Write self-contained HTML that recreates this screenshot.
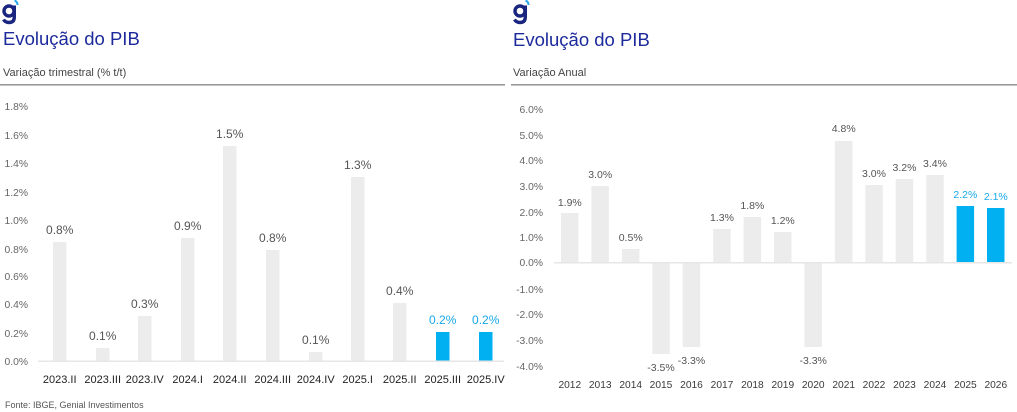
<!DOCTYPE html>
<html><head><meta charset="utf-8"><style>
html,body{margin:0;padding:0;background:#fff;}
svg{display:block;}
text{font-family:"Liberation Sans",sans-serif;}
</style></head><body>
<svg width="1017" height="412" viewBox="0 0 1017 412" xmlns="http://www.w3.org/2000/svg">
<rect width="1017" height="412" fill="#fff"/>

<!-- LEFT HEADER -->
<g transform="translate(0,0)">
  <circle cx="9" cy="11" r="5" fill="none" stroke="#1a2580" stroke-width="3.4"/>
  <path d="M14.3 5.5 V17 Q14.3 22.5 9 22.5 Q5.3 22.5 3.5 19.5" fill="none" stroke="#1a2580" stroke-width="3.4"/>
  <path d="M14.5 0.5 Q17.5 1.5 17.5 5" fill="none" stroke="#2aa8e8" stroke-width="2"/>
</g>
<text x="3" y="45" font-size="18.5" fill="#1c2a9c">Evolução do PIB</text>
<text x="3" y="76" font-size="11" fill="#444">Variação trimestral (% t/t)</text>
<rect x="0" y="84" width="505" height="1.6" fill="#9a9a9a"/>

<!-- LEFT Y AXIS -->
<g font-size="10.3" fill="#666" text-anchor="end">
  <text x="28" y="110">1.8%</text>
  <text x="28" y="139">1.6%</text>
  <text x="28" y="167">1.4%</text>
  <text x="28" y="196">1.2%</text>
  <text x="28" y="224">1.0%</text>
  <text x="28" y="253">0.8%</text>
  <text x="28" y="280">0.6%</text>
  <text x="28" y="308">0.4%</text>
  <text x="28" y="337">0.2%</text>
  <text x="28" y="365">0.0%</text>
</g>

<!-- LEFT BARS -->
<g fill="#ececec">
  <rect x="53" y="242" width="13.5" height="119"/>
  <rect x="96" y="348" width="13.5" height="13"/>
  <rect x="138" y="316" width="13.5" height="45"/>
  <rect x="181" y="238" width="13.5" height="123"/>
  <rect x="223" y="146" width="13.5" height="215"/>
  <rect x="266" y="250" width="13.5" height="111"/>
  <rect x="309" y="352" width="13.5" height="9"/>
  <rect x="351" y="177" width="13.5" height="184"/>
  <rect x="393" y="303" width="13.5" height="58"/>
</g>
<g fill="#00b0f0">
  <rect x="436" y="332" width="13.5" height="29"/>
  <rect x="479" y="332" width="13.5" height="29"/>
</g>
<rect x="38" y="360.5" width="466" height="1.5" fill="#e6e6e6"/>

<g font-size="12" fill="#555" text-anchor="middle">
  <text x="59.7" y="234">0.8%</text>
  <text x="102.7" y="340">0.1%</text>
  <text x="144.7" y="308">0.3%</text>
  <text x="187.7" y="230">0.9%</text>
  <text x="229.7" y="138">1.5%</text>
  <text x="272.7" y="242">0.8%</text>
  <text x="315.7" y="344">0.1%</text>
  <text x="357.7" y="169">1.3%</text>
  <text x="399.7" y="295">0.4%</text>
</g>
<g font-size="12" fill="#1aa8ea" text-anchor="middle">
  <text x="442.7" y="324">0.2%</text>
  <text x="485.7" y="324">0.2%</text>
</g>

<g font-size="11" fill="#222" text-anchor="middle">
  <text x="59.7" y="383">2023.II</text>
  <text x="102.7" y="383">2023.III</text>
  <text x="144.7" y="383">2023.IV</text>
  <text x="187.7" y="383">2024.I</text>
  <text x="229.7" y="383">2024.II</text>
  <text x="272.7" y="383">2024.III</text>
  <text x="315.7" y="383">2024.IV</text>
  <text x="357.7" y="383">2025.I</text>
  <text x="399.7" y="383">2025.II</text>
  <text x="442.7" y="383">2025.III</text>
  <text x="485.7" y="383">2025.IV</text>
</g>

<text x="5" y="408" font-size="9" fill="#555">Fonte: IBGE, Genial Investimentos</text>

<!-- RIGHT HEADER -->
<g transform="translate(511,0)">
  <circle cx="9" cy="11" r="5" fill="none" stroke="#1a2580" stroke-width="3.4"/>
  <path d="M14.3 5.5 V17 Q14.3 22.5 9 22.5 Q5.3 22.5 3.5 19.5" fill="none" stroke="#1a2580" stroke-width="3.4"/>
  <path d="M14.5 0.5 Q17.5 1.5 17.5 5" fill="none" stroke="#2aa8e8" stroke-width="2"/>
</g>
<text x="513" y="46" font-size="18.5" fill="#1c2a9c">Evolução do PIB</text>
<text x="513" y="76" font-size="11" fill="#444">Variação Anual</text>
<rect x="511" y="84" width="506" height="1.6" fill="#9a9a9a"/>

<!-- RIGHT Y AXIS -->
<g font-size="10.3" fill="#666" text-anchor="end">
  <text x="543" y="113">6.0%</text>
  <text x="543" y="139">5.0%</text>
  <text x="543" y="164">4.0%</text>
  <text x="543" y="190">3.0%</text>
  <text x="543" y="216">2.0%</text>
  <text x="543" y="241">1.0%</text>
  <text x="543" y="266">0.0%</text>
  <text x="543" y="293">-1.0%</text>
  <text x="543" y="318">-2.0%</text>
  <text x="543" y="344">-3.0%</text>
  <text x="543" y="370">-4.0%</text>
</g>

<!-- RIGHT BARS -->
<g fill="#ececec">
  <rect x="561" y="213" width="17.5" height="49.5"/>
  <rect x="591.4" y="186" width="17.5" height="76.5"/>
  <rect x="621.9" y="249" width="17.5" height="13.5"/>
  <rect x="652.3" y="262.5" width="17.5" height="91.5"/>
  <rect x="682.7" y="262.5" width="17.5" height="84.5"/>
  <rect x="713.2" y="229" width="17.5" height="33.5"/>
  <rect x="743.6" y="217" width="17.5" height="45.5"/>
  <rect x="774" y="232" width="17.5" height="30.5"/>
  <rect x="804.4" y="262.5" width="17.5" height="84.5"/>
  <rect x="834.9" y="141" width="17.5" height="121.5"/>
  <rect x="865.3" y="185" width="17.5" height="77.5"/>
  <rect x="895.7" y="179" width="17.5" height="83.5"/>
  <rect x="926.2" y="175" width="17.5" height="87.5"/>
</g>
<g fill="#00b0f0">
  <rect x="956.6" y="206" width="17.5" height="56.5"/>
  <rect x="987" y="208" width="17.5" height="54.5"/>
</g>
<rect x="554" y="262" width="458" height="1.5" fill="#e6e6e6"/>

<g font-size="10.5" fill="#555" text-anchor="middle">
  <text x="569.8" y="206">1.9%</text>
  <text x="600.2" y="178">3.0%</text>
  <text x="630.7" y="241">0.5%</text>
  <text x="661" y="371">-3.5%</text>
  <text x="691.5" y="364">-3.3%</text>
  <text x="722" y="221">1.3%</text>
  <text x="752.4" y="209">1.8%</text>
  <text x="782.8" y="224">1.2%</text>
  <text x="813.2" y="364">-3.3%</text>
  <text x="843.7" y="132">4.8%</text>
  <text x="874" y="177">3.0%</text>
  <text x="904.5" y="171">3.2%</text>
  <text x="935" y="167">3.4%</text>
</g>
<g font-size="10.5" fill="#1aa8ea" text-anchor="middle">
  <text x="965.4" y="198">2.2%</text>
  <text x="995.8" y="200">2.1%</text>
</g>

<g font-size="10.2" fill="#3a3a3a" text-anchor="middle">
  <text x="569.8" y="388">2012</text>
  <text x="600.2" y="388">2013</text>
  <text x="630.7" y="388">2014</text>
  <text x="661" y="388">2015</text>
  <text x="691.5" y="388">2016</text>
  <text x="722" y="388">2017</text>
  <text x="752.4" y="388">2018</text>
  <text x="782.8" y="388">2019</text>
  <text x="813.2" y="388">2020</text>
  <text x="843.7" y="388">2021</text>
  <text x="874" y="388">2022</text>
  <text x="904.5" y="388">2023</text>
  <text x="935" y="388">2024</text>
  <text x="965.4" y="388">2025</text>
  <text x="995.8" y="388">2026</text>
</g>
</svg>
</body></html>
